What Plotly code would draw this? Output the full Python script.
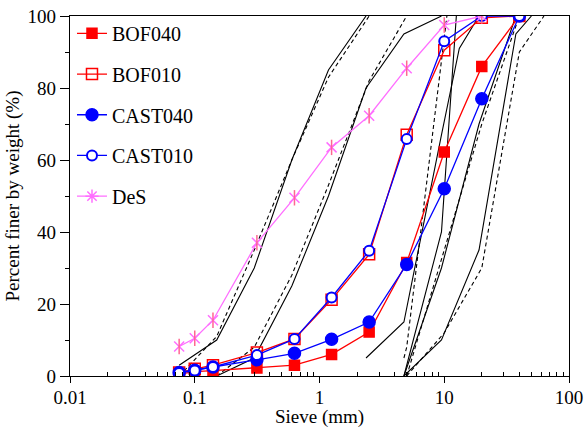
import plotly.graph_objects as go

# Sieve sizes (mm) used for the measured gradations
sieve = [0.075, 0.1, 0.14, 0.315, 0.63, 1.25, 2.5, 5, 10, 20, 40]

bof040 = [0.5, 1.2, 1.5, 2.2, 3.0, 6.0, 12.2, 31.5, 62.2, 86.0, 100]
bof010 = [1.0, 2.0, 3.0, 6.5, 10.3, 21.2, 33.8, 67.0, 90.5, 99.5, 100]
cast040 = [1.0, 1.6, 2.5, 4.5, 6.3, 10.2, 15.0, 31.0, 52.0, 77.0, 100]
cast010 = [0.8, 1.5, 2.5, 5.8, 10.3, 21.8, 34.8, 65.8, 93.0, 100, 100]

des_sieve = [0.075, 0.1, 0.14, 0.315, 0.63, 1.25, 2.5, 5, 10, 20]
des = [8.2, 10.5, 15.5, 37.0, 49.5, 63.5, 72.3, 85.5, 97.5, 100]

# Specification envelopes (sieve, percent passing); solid and dashed sets
solid_x = [
    [0.075, 0.15, 0.3, 0.6, 1.18, 2.36],
    [0.15, 0.3, 0.6, 1.18, 2.36, 4.75, 9.5],
    [2.36, 4.75, 9.5, 13.2, 19],
    [4.75, 9.5, 12.5],
    [4.75, 9.5, 19, 37.5],
    [4.75, 9.5, 19, 37.5, 50],
]
solid_y = [
    [3, 10, 30, 60, 85, 100],
    [0, 5, 25, 50, 80, 95, 100],
    [5, 15, 67, 91, 100],
    [0, 40, 100],
    [0, 30, 70, 100],
    [0, 10, 35, 95, 100],
]
dashed_x = [
    [0.075, 0.15, 0.3, 0.6, 1.18, 2.5],
    [0.15, 0.3, 0.6, 1.18, 2.5, 5],
    [4.75, 5, 10.5],
    [5, 10, 20, 40],
    [5, 10, 20, 40, 63],
]
dashed_y = [
    [0, 11, 35, 60, 83, 100],
    [0, 8, 28, 53, 82, 100],
    [5, 8, 100],
    [0, 35, 70, 100],
    [0, 12, 30, 90, 100],
]

fig = go.Figure()

for xs, ys in zip(solid_x, solid_y):
    fig.add_trace(go.Scatter(x=xs, y=ys, mode="lines", showlegend=False,
                             line=dict(color="black", width=1.1), hoverinfo="skip"))
for xs, ys in zip(dashed_x, dashed_y):
    fig.add_trace(go.Scatter(x=xs, y=ys, mode="lines", showlegend=False,
                             line=dict(color="black", width=1.1, dash="4px,3px"),
                             hoverinfo="skip"))

series = [
    ("BOF040", sieve, bof040, "red", "square", 10),
    ("BOF010", sieve, bof010, "red", "square-open", 11),
    ("CAST040", sieve, cast040, "blue", "circle", 12),
    ("CAST010", sieve, cast010, "blue", "circle-open", 10),
]
for name, xs, ys, col, sym, size in series:
    marker = dict(symbol=sym, size=size, color=col, line=dict(color=col, width=1.5))
    if sym == "circle-open":
        marker = dict(symbol="circle", size=size, color="white", line=dict(color=col, width=2))
    fig.add_trace(go.Scatter(x=xs, y=ys, mode="lines+markers", name=name, legendgroup=name,
                             line=dict(color=col, width=1.3), marker=marker))

# DeS: six-armed star built from an X and a vertical bar
pink = "#ff6eff"
fig.add_trace(go.Scatter(x=des_sieve, y=des, mode="lines+markers", showlegend=False,
                         legendgroup="DeS", line=dict(color=pink, width=1.3),
                         marker=dict(symbol="x-thin-open", size=10,
                                     line=dict(color=pink, width=1.5))))
fig.add_trace(go.Scatter(x=des_sieve, y=des, mode="markers", showlegend=False,
                         legendgroup="DeS", hoverinfo="skip",
                         marker=dict(symbol="line-ns-open", size=11,
                                     line=dict(color=pink, width=1.5))))
fig.add_trace(go.Scatter(x=[None], y=[None], mode="lines+markers", name="DeS",
                         legendgroup="DeS", line=dict(color=pink, width=1.3),
                         marker=dict(symbol="asterisk-open", size=11,
                                     line=dict(color=pink, width=1.5))))

font = "Liberation Serif, Times New Roman, serif"

# Minor tick positions on the log axis: 2..9 in each decade
minor_x = [m * 10.0 ** e for e in range(-2, 2) for m in range(2, 10)]

fig.update_layout(
    width=584, height=427,
    margin=dict(l=70, r=15, t=16, b=51),
    plot_bgcolor="white", paper_bgcolor="white",
    font=dict(family=font, size=19, color="black"),
    legend=dict(x=0.004, y=1.006, xanchor="left", yanchor="top",
                bgcolor="rgba(0,0,0,0)", font=dict(family=font, size=20),
                tracegroupgap=11.7, itemsizing="trace", itemwidth=30),
    showlegend=True,
    annotations=[dict(text="Sieve (mm)", xref="paper", yref="paper",
                      x=0.5, y=-0.114, xanchor="center", yanchor="middle",
                      showarrow=False, font=dict(family=font, size=19))],
)
fig.update_xaxes(
    type="log", range=[-2, 2], automargin=False,
    tickvals=[0.01, 0.1, 1, 10, 100], ticktext=["0.01", "0.1", "1", "10", "100"],
    ticks="outside", ticklen=6, tickcolor="black", tickwidth=1,
    tickfont=dict(size=19), ticklabelstandoff=-2,
    minor=dict(tickvals=minor_x, ticks="inside", ticklen=4, tickcolor="black", showgrid=False),
    showline=True, linecolor="black", linewidth=1.2, mirror=True,
    showgrid=False, zeroline=False,
)
fig.update_yaxes(
    range=[0, 100], automargin=False,
    title=dict(text="Percent finer by weight (%)", standoff=2, font=dict(size=19)),
    tickvals=[0, 20, 40, 60, 80, 100],
    ticks="outside", ticklen=9, tickcolor="black", tickwidth=1,
    tickfont=dict(size=19),
    minor=dict(tickvals=[10, 30, 50, 70, 90], ticks="outside", ticklen=4,
               tickcolor="black", showgrid=False),
    showline=True, linecolor="black", linewidth=1.2, mirror=True,
    showgrid=False, zeroline=False,
)

fig.write_html("out.html")
